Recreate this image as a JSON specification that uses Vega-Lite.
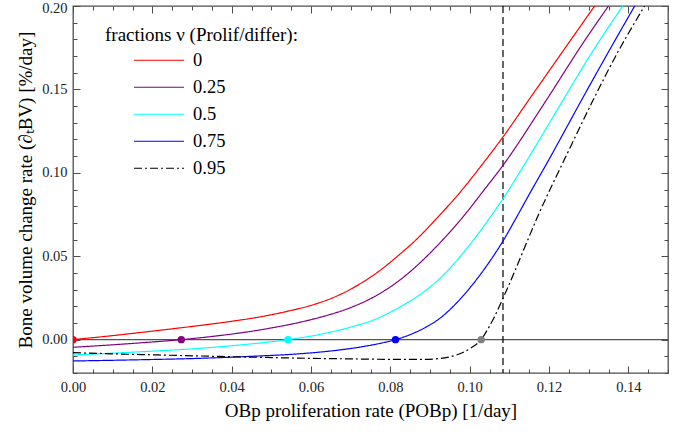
{
  "$schema": "https://vega.github.io/schema/vega-lite/v6.json",
  "autosize": "none",
  "width": 595,
  "height": 367,
  "padding": {"left": 73, "top": 6, "right": 19, "bottom": 59},
  "background": "white",
  "config": {
    "view": {"stroke": "#4d4d4d", "strokeWidth": 1.3},
    "font": "Liberation Serif",
    "axis": {"labelFont": "Liberation Serif", "titleFont": "Liberation Serif", "labelFlush": false},
    "legend": {"labelFont": "Liberation Serif", "titleFont": "Liberation Serif"}
  },
  "datasets": {
    "curves": [
      {"nu": "0", "x": 0, "y": 0}, {"nu": "0", "x": 0.008, "y": 0.0019}, {"nu": "0", "x": 0.016, "y": 0.004}, {"nu": "0", "x": 0.024, "y": 0.0062}, {"nu": "0", "x": 0.032, "y": 0.0085}, {"nu": "0", "x": 0.04, "y": 0.011}, {"nu": "0", "x": 0.048, "y": 0.014}, {"nu": "0", "x": 0.055, "y": 0.0175}, {"nu": "0", "x": 0.06, "y": 0.0205}, {"nu": "0", "x": 0.0673, "y": 0.027}, {"nu": "0", "x": 0.0724, "y": 0.0335}, {"nu": "0", "x": 0.0774, "y": 0.0415}, {"nu": "0", "x": 0.0824, "y": 0.0512}, {"nu": "0", "x": 0.087, "y": 0.061}, {"nu": "0", "x": 0.0915, "y": 0.0722}, {"nu": "0", "x": 0.098, "y": 0.0895}, {"nu": "0", "x": 0.103, "y": 0.1045}, {"nu": "0", "x": 0.1085, "y": 0.1218}, {"nu": "0", "x": 0.115, "y": 0.144}, {"nu": "0", "x": 0.12, "y": 0.161}, {"nu": "0", "x": 0.1256, "y": 0.18}, {"nu": "0", "x": 0.1315, "y": 0.2},
      {"nu": "0.25", "x": 0, "y": -0.0046}, {"nu": "0.25", "x": 0.01, "y": -0.0031}, {"nu": "0.25", "x": 0.02, "y": -0.0014}, {"nu": "0.25", "x": 0.0273, "y": 0}, {"nu": "0.25", "x": 0.035, "y": 0.0019}, {"nu": "0.25", "x": 0.043, "y": 0.0043}, {"nu": "0.25", "x": 0.05, "y": 0.007}, {"nu": "0.25", "x": 0.057, "y": 0.0103}, {"nu": "0.25", "x": 0.064, "y": 0.0145}, {"nu": "0.25", "x": 0.07, "y": 0.0192}, {"nu": "0.25", "x": 0.076, "y": 0.0258}, {"nu": "0.25", "x": 0.082, "y": 0.035}, {"nu": "0.25", "x": 0.087, "y": 0.045}, {"nu": "0.25", "x": 0.0925, "y": 0.058}, {"nu": "0.25", "x": 0.0984, "y": 0.0738}, {"nu": "0.25", "x": 0.1035, "y": 0.0893}, {"nu": "0.25", "x": 0.1085, "y": 0.1048}, {"nu": "0.25", "x": 0.1185, "y": 0.1405}, {"nu": "0.25", "x": 0.1292, "y": 0.18}, {"nu": "0.25", "x": 0.135, "y": 0.2},
      {"nu": "0.5", "x": 0, "y": -0.0092}, {"nu": "0.5", "x": 0.01, "y": -0.0081}, {"nu": "0.5", "x": 0.02, "y": -0.0069}, {"nu": "0.5", "x": 0.032, "y": -0.0052}, {"nu": "0.5", "x": 0.043, "y": -0.003}, {"nu": "0.5", "x": 0.0542, "y": 0}, {"nu": "0.5", "x": 0.062, "y": 0.003}, {"nu": "0.5", "x": 0.07, "y": 0.0075}, {"nu": "0.5", "x": 0.076, "y": 0.012}, {"nu": "0.5", "x": 0.0824, "y": 0.0195}, {"nu": "0.5", "x": 0.087, "y": 0.0262}, {"nu": "0.5", "x": 0.0921, "y": 0.0358}, {"nu": "0.5", "x": 0.0955, "y": 0.044}, {"nu": "0.5", "x": 0.0989, "y": 0.0535}, {"nu": "0.5", "x": 0.1025, "y": 0.0645}, {"nu": "0.5", "x": 0.105, "y": 0.0728}, {"nu": "0.5", "x": 0.1085, "y": 0.0848}, {"nu": "0.5", "x": 0.1128, "y": 0.101}, {"nu": "0.5", "x": 0.118, "y": 0.1215}, {"nu": "0.5", "x": 0.1236, "y": 0.1438}, {"nu": "0.5", "x": 0.13, "y": 0.169}, {"nu": "0.5", "x": 0.1386, "y": 0.2},
      {"nu": "0.75", "x": 0, "y": -0.0128}, {"nu": "0.75", "x": 0.016, "y": -0.0121}, {"nu": "0.75", "x": 0.032, "y": -0.0112}, {"nu": "0.75", "x": 0.045, "y": -0.01}, {"nu": "0.75", "x": 0.057, "y": -0.0085}, {"nu": "0.75", "x": 0.065, "y": -0.0068}, {"nu": "0.75", "x": 0.072, "y": -0.0046}, {"nu": "0.75", "x": 0.0775, "y": -0.0022}, {"nu": "0.75", "x": 0.0813, "y": 0}, {"nu": "0.75", "x": 0.0855, "y": 0.0035}, {"nu": "0.75", "x": 0.089, "y": 0.0075}, {"nu": "0.75", "x": 0.0925, "y": 0.0128}, {"nu": "0.75", "x": 0.0965, "y": 0.0215}, {"nu": "0.75", "x": 0.101, "y": 0.0338}, {"nu": "0.75", "x": 0.1048, "y": 0.046}, {"nu": "0.75", "x": 0.1085, "y": 0.0595}, {"nu": "0.75", "x": 0.1115, "y": 0.072}, {"nu": "0.75", "x": 0.115, "y": 0.087}, {"nu": "0.75", "x": 0.12, "y": 0.108}, {"nu": "0.75", "x": 0.1283, "y": 0.144}, {"nu": "0.75", "x": 0.135, "y": 0.1725}, {"nu": "0.75", "x": 0.1416, "y": 0.2},
      {"nu": "0.95", "x": 0, "y": -0.0078}, {"nu": "0.95", "x": 0.01, "y": -0.0085}, {"nu": "0.95", "x": 0.02, "y": -0.0091}, {"nu": "0.95", "x": 0.032, "y": -0.0098}, {"nu": "0.95", "x": 0.045, "y": -0.0105}, {"nu": "0.95", "x": 0.057, "y": -0.0111}, {"nu": "0.95", "x": 0.069, "y": -0.0115}, {"nu": "0.95", "x": 0.08, "y": -0.0118}, {"nu": "0.95", "x": 0.0885, "y": -0.0118}, {"nu": "0.95", "x": 0.0925, "y": -0.0113}, {"nu": "0.95", "x": 0.0955, "y": -0.01}, {"nu": "0.95", "x": 0.098, "y": -0.008}, {"nu": "0.95", "x": 0.1005, "y": -0.0047}, {"nu": "0.95", "x": 0.1029, "y": 0}, {"nu": "0.95", "x": 0.1045, "y": 0.006}, {"nu": "0.95", "x": 0.1061, "y": 0.013}, {"nu": "0.95", "x": 0.1081, "y": 0.0232}, {"nu": "0.95", "x": 0.1107, "y": 0.0372}, {"nu": "0.95", "x": 0.1132, "y": 0.0515}, {"nu": "0.95", "x": 0.117, "y": 0.073}, {"nu": "0.95", "x": 0.125, "y": 0.1135}, {"nu": "0.95", "x": 0.131, "y": 0.143}, {"nu": "0.95", "x": 0.1375, "y": 0.173}, {"nu": "0.95", "x": 0.1441, "y": 0.2}
    ],
    "roots": [
      {"nu": "0", "x": 0, "y": 0},
      {"nu": "0.25", "x": 0.0273, "y": 0},
      {"nu": "0.5", "x": 0.0542, "y": 0},
      {"nu": "0.75", "x": 0.0813, "y": 0},
      {"nu": "0.95", "x": 0.1029, "y": 0}
    ],
    "zero": [{"y": 0}],
    "threshold": [{"x": 0.1084}]
  },
  "resolve": {"axis": {"x": "independent", "y": "independent"}},
  "layer": [
    {
      "data": {"name": "zero"},
      "mark": {"type": "rule", "color": "#555555", "strokeWidth": 1.3},
      "encoding": {
        "y": {
          "field": "y", "type": "quantitative",
          "scale": {"domain": [-0.02, 0.2], "nice": false, "zero": false},
          "axis": {
            "orient": "left", "values": [0, 0.05, 0.1, 0.15, 0.2], "format": ".2f",
            "ticks": false, "domain": false, "grid": false, "labelFlush": false,
            "labelFont": "Liberation Serif", "labelFontSize": 14.5, "labelColor": "#222222", "labelPadding": 6,
            "labelOffset": {"condition": {"test": "datum.value > 0.19", "value": 2}, "value": 0},
            "title": "Bone volume change rate (∂ₜBV) [%/day]",
            "titleFont": "Liberation Serif", "titleFontSize": 19, "titleFontWeight": "normal", "titleColor": "black", "titlePadding": 6
          }
        }
      }
    },
    {
      "data": {"name": "threshold"},
      "mark": {"type": "rule", "color": "black", "strokeWidth": 1.2, "strokeDash": [7, 4]},
      "encoding": {
        "x": {
          "field": "x", "type": "quantitative",
          "scale": {"domain": [0, 0.15], "nice": false, "zero": false},
          "axis": {
            "orient": "bottom", "values": [0, 0.02, 0.04, 0.06, 0.08, 0.1, 0.12, 0.14], "format": ".2f",
            "ticks": false, "domain": false, "grid": false, "labelFlush": false,
            "labelFont": "Liberation Serif", "labelFontSize": 14.5, "labelColor": "#222222", "labelPadding": 7,
            "title": "OBp proliferation rate (POBp) [1/day]",
            "titleFont": "Liberation Serif", "titleFontSize": 19, "titleFontWeight": "normal", "titleColor": "black", "titlePadding": 8
          }
        }
      }
    },
    {
      "data": {"name": "curves"},
      "mark": {"type": "line", "strokeWidth": 1.2, "interpolate": "monotone", "clip": true},
      "encoding": {
        "x": {
          "field": "x", "type": "quantitative",
          "scale": {"domain": [0, 0.15], "nice": false, "zero": false},
          "axis": {
            "orient": "bottom",
            "values": [0, 0.005, 0.01, 0.015, 0.02, 0.025, 0.03, 0.035, 0.04, 0.045, 0.05, 0.055, 0.06, 0.065, 0.07, 0.075, 0.08, 0.085, 0.09, 0.095, 0.1, 0.105, 0.11, 0.115, 0.12, 0.125, 0.13, 0.135, 0.14, 0.145, 0.15],
            "labels": false, "domain": false, "grid": false, "title": null,
            "tickColor": "#4d4d4d", "tickWidth": 1,
            "tickSize": {"condition": {"test": "abs(datum.value*50 - round(datum.value*50)) < 0.001", "value": -7}, "value": -4}
          }
        },
        "y": {
          "field": "y", "type": "quantitative",
          "scale": {"domain": [-0.02, 0.2], "nice": false, "zero": false},
          "axis": {
            "orient": "left",
            "values": [-0.02, -0.01, 0, 0.01, 0.02, 0.03, 0.04, 0.05, 0.06, 0.07, 0.08, 0.09, 0.1, 0.11, 0.12, 0.13, 0.14, 0.15, 0.16, 0.17, 0.18, 0.19, 0.2],
            "labels": false, "domain": false, "grid": false, "title": null,
            "tickColor": "#4d4d4d", "tickWidth": 1,
            "tickSize": {"condition": {"test": "abs(datum.value*20 - round(datum.value*20)) < 0.001", "value": -7}, "value": -4}
          }
        },
        "color": {
          "field": "nu", "type": "nominal",
          "scale": {"domain": ["0", "0.25", "0.5", "0.75", "0.95"], "range": ["#ff0000", "#800080", "#00ffff", "#0000ff", "#000000"]},
          "legend": {
            "orient": "none", "legendX": 32, "legendY": 20, "padding": 0,
            "title": "fractions ν (Prolif/differ):",
            "titleFont": "Liberation Serif", "titleFontSize": 19, "titleFontWeight": "normal", "titleColor": "black", "titlePadding": 3, "titleLimit": 400,
            "labelFont": "Liberation Serif", "labelFontSize": 18.5, "labelColor": "black", "labelOffset": 8,
            "symbolType": "stroke", "symbolSize": 2500, "symbolStrokeWidth": 1.2, "symbolOffset": 28,
            "clipHeight": 24.5, "rowPadding": 2
          }
        },
        "strokeDash": {
          "field": "nu", "type": "nominal",
          "scale": {"domain": ["0", "0.25", "0.5", "0.75", "0.95"], "range": [[1, 0], [1, 0], [1, 0], [1, 0], [8, 3, 2, 3]]},
          "legend": {
            "orient": "none", "legendX": 32, "legendY": 20, "padding": 0,
            "title": "fractions ν (Prolif/differ):",
            "titleFont": "Liberation Serif", "titleFontSize": 19, "titleFontWeight": "normal", "titleColor": "black", "titlePadding": 3, "titleLimit": 400,
            "labelFont": "Liberation Serif", "labelFontSize": 18.5, "labelColor": "black", "labelOffset": 8,
            "symbolType": "stroke", "symbolSize": 2500, "symbolStrokeWidth": 1.2, "symbolOffset": 28,
            "clipHeight": 24.5, "rowPadding": 2
          }
        }
      }
    },
    {
      "data": {"name": "roots"},
      "mark": {"type": "point", "filled": true, "size": 55, "opacity": 1, "clip": true},
      "encoding": {
        "x": {
          "field": "x", "type": "quantitative",
          "scale": {"domain": [0, 0.15], "nice": false, "zero": false},
          "axis": {
            "orient": "top",
            "values": [0, 0.005, 0.01, 0.015, 0.02, 0.025, 0.03, 0.035, 0.04, 0.045, 0.05, 0.055, 0.06, 0.065, 0.07, 0.075, 0.08, 0.085, 0.09, 0.095, 0.1, 0.105, 0.11, 0.115, 0.12, 0.125, 0.13, 0.135, 0.14, 0.145, 0.15],
            "labels": false, "domain": false, "grid": false, "title": null,
            "tickColor": "#4d4d4d", "tickWidth": 1,
            "tickSize": {"condition": {"test": "abs(datum.value*50 - round(datum.value*50)) < 0.001", "value": -7}, "value": -4}
          }
        },
        "y": {
          "field": "y", "type": "quantitative",
          "scale": {"domain": [-0.02, 0.2], "nice": false, "zero": false},
          "axis": {
            "orient": "right",
            "values": [-0.02, -0.01, 0, 0.01, 0.02, 0.03, 0.04, 0.05, 0.06, 0.07, 0.08, 0.09, 0.1, 0.11, 0.12, 0.13, 0.14, 0.15, 0.16, 0.17, 0.18, 0.19, 0.2],
            "labels": false, "domain": false, "grid": false, "title": null,
            "tickColor": "#4d4d4d", "tickWidth": 1,
            "tickSize": {"condition": {"test": "abs(datum.value*20 - round(datum.value*20)) < 0.001", "value": -7}, "value": -4}
          }
        },
        "fill": {
          "field": "nu", "type": "nominal",
          "scale": {"domain": ["0", "0.25", "0.5", "0.75", "0.95"], "range": ["#ff0000", "#800080", "#00ffff", "#0000ff", "#808080"]},
          "legend": null
        }
      }
    }
  ]
}
